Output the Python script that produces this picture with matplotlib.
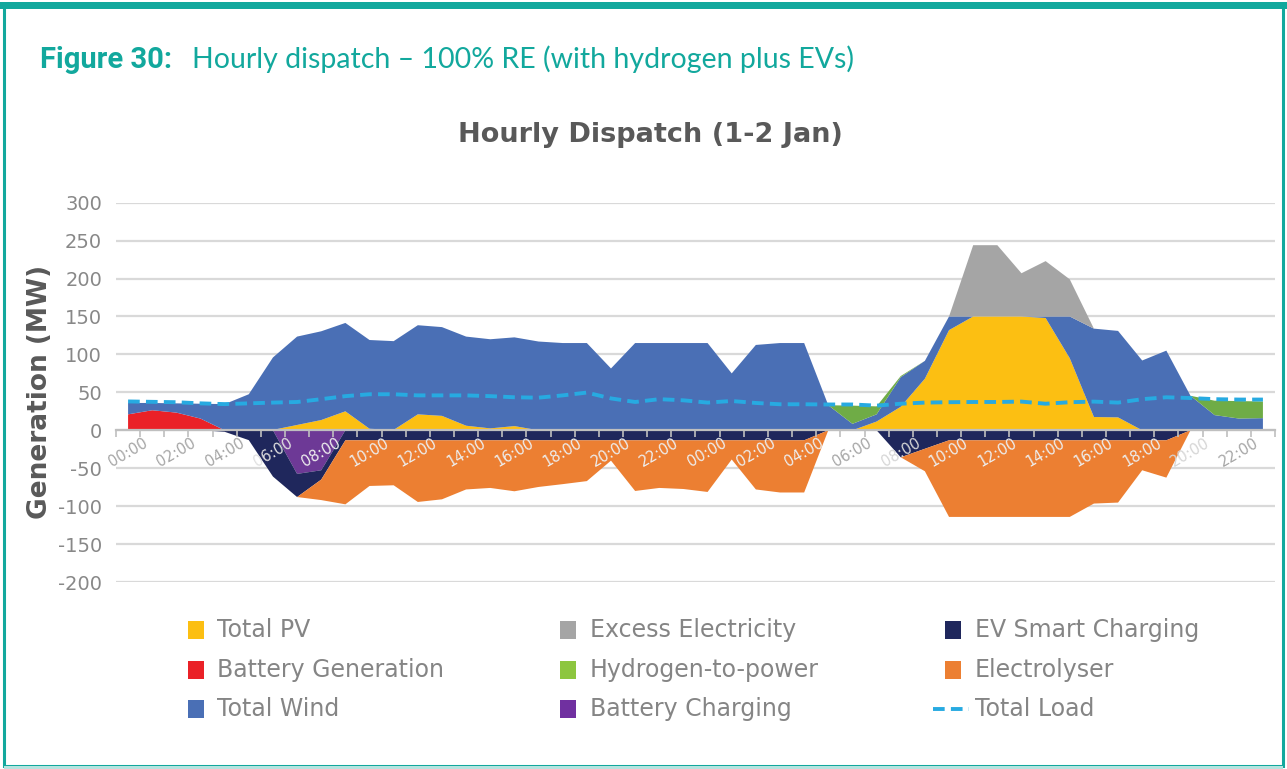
import numpy as np
import matplotlib.pyplot as plt
from matplotlib.patches import Rectangle
from matplotlib.lines import Line2D

plt.rcParams["axes.unicode_minus"] = False

# hourly values, 1-2 Jan (48 hours), MW
pv = [0, 0, 0, 0, 0, 0, 0.5, 7, 13.5, 25, 2, 0.5, 21, 19, 6, 2.5, 5.5, 0, 0, 0, 0, 0, 0, 0,
      0, 0, 0, 0, 0, 0, 0, 11.5, 31, 68, 132, 150, 150, 150, 148, 95, 17.5, 17, 0, 0, 0, 0, 0, 0]
battery_gen = [21, 26.4, 23.3, 15.4, 0, 0, 0, 0, 0, 0, 0, 0, 0, 0, 0, 0, 0, 0, 0, 0, 0, 0, 0, 0,
               0, 0, 0, 0, 0, 0, 0, 0, 0, 0, 0, 0, 0, 0, 0, 0, 0, 0, 0, 0, 1.5, 0, 0, 0]
wind = [15, 9.6, 12.2, 19.6, 34.5, 47.5, 95.5, 116.5, 117, 116.5, 117, 117, 117.5, 117, 117.5, 117.5,
        117, 117, 115, 115, 81.5, 115, 115, 115,
        115, 75, 112.5, 115, 115, 33, 8.5, 9.5, 39, 23.5, 18, 0, 0, 0, 2, 55, 116.5, 114, 92, 105,
        44, 20, 15.5, 16]
h2p = [0, 0, 0, 0, 0, 0, 0, 0, 0, 0, 0, 0, 0, 0, 0, 0, 0, 0, 0, 0, 0, 0, 0, 0,
       0, 0, 0, 0, 0, 0, 24, 10.5, 1.5, 0, 0, 0, 0, 0, 0, 0, 0, 0, 0, 0, 0, 19, 23, 22]
excess = [0, 0, 0, 0, 0, 0, 0, 0, 0, 0, 0, 0, 0, 0, 0, 0, 0, 0, 0, 0, 0, 0, 0, 0,
          0, 0, 0, 0, 0, 0, 0, 0, 0, 0, 0, 94, 94, 57, 73, 49, 0, 0, 0, 0, 0, 0, 0, 0]
battery_chg = [0, 0, 0, 0, 0, 0, 0, 57.5, 52.7, 0, 0, 0, 0, 0, 0, 0, 0, 0, 0, 0, 0, 0, 0, 0,
               0, 0, 0, 0, 0, 0, 0, 0, 0, 0, 0, 0, 0, 0, 0, 0, 0, 0, 0, 0, 0, 0, 0, 0]
ev_charging = [0, 0, 0, 0, 2, 13, 61, 30.5, 12.3, 13.2, 13.2, 13.2, 13.2, 13.2, 13.2, 13.2,
               13.2, 13.2, 13.2, 13.2, 13.2, 13.2, 13.2, 13.2,
               13.2, 13.2, 13.2, 13.2, 13.2, 0, 0, 0, 35.6, 24.4, 13.2, 13.2, 13.2, 13.2, 13.2,
               13.2, 13.2, 13.2, 13.2, 13.2, 0, 0, 0, 0]
electrolyser = [0, 0, 0, 0, 0, 0, 0, 0, 27, 84.4, 60.2, 59.3, 81.3, 77.8, 64.8, 62.8, 67.2,
                61.5, 57.8, 53.8, 26.8, 66.8, 62.8, 64.2,
                68.1, 25.3, 64.8, 68.8, 68.8, 0, 0, 0, 0, 29.6, 101, 101, 101, 101, 101, 101,
                83.4, 82.1, 39.5, 49.2, 0, 0, 0, 0]
load = [38, 37.5, 37, 35.5, 34.5, 35.5, 36.5, 37.3, 41, 45, 47.5, 47.5, 46, 46, 46, 45, 43.5,
        43, 46, 49.7, 42, 37.3, 41, 39.5,
        36.5, 38.6, 36, 34.3, 34.3, 34, 34, 32.5, 35, 36.5, 37, 37.3, 37.3, 37.8, 35, 37, 37.8,
        36.5, 41, 43.5, 42.5, 41, 40.5, 40.5]

tick_labels = ["00:00", "02:00", "04:00", "06:00", "08:00", "10:00", "12:00", "14:00",
               "16:00", "18:00", "20:00", "22:00", "00:00", "02:00", "04:00", "06:00",
               "08:00", "10:00", "12:00", "14:00", "16:00", "18:00", "20:00", "22:00"]
y_ticks = [-200, -150, -100, -50, 0, 50, 100, 150, 200, 250, 300]

c_pv, c_bg, c_wind = "#FCBF12", "#EA2127", "#4A6FB5"
c_h2p, c_exc = "#6FAC46", "#A5A5A5"
c_bc, c_ev, c_el = "#6D3996", "#1F275C", "#EC7F32"
c_load = "#27AAE1"
teal = "#12A89D"

W, H = 1287, 769
fig = plt.figure(figsize=(W / 100, H / 100), dpi=100)

# page frame
fig.add_artist(Rectangle((4 / W, 3 / H), 1279 / W, 760 / H, transform=fig.transFigure,
                         fill=False, edgecolor=teal, lw=2.2))
fig.add_artist(Rectangle((0, 1 - 9 / H), 1, 7 / H, transform=fig.transFigure,
                         color=teal, lw=0))
fig.add_artist(Rectangle((4 / W, 0), 1279 / W, 3 / H, transform=fig.transFigure,
                         color="#B5E4DF", lw=0))

fig.text(40 / W, 1 - 68 / H, "Figure 30:", family="Roboto", weight="bold",
         fontsize=21, color=teal, va="baseline")
fig.text(192 / W, 1 - 68 / H, "Hourly dispatch \u2013 100% RE (with hydrogen plus EVs)",
         family="Lato", fontsize=20.5, color=teal, va="baseline")
fig.text(650 / W, 1 - 135 / H, "Hourly Dispatch (1-2 Jan)", weight="bold",
         fontsize=19.5, color="#595959", ha="center", va="center")
fig.text(40 / W, 1 - 392 / H, "Generation (MW)", weight="bold", fontsize=19,
         color="#595959", rotation=90, ha="center", va="center")

ax = fig.add_axes([116 / W, 1 - 582 / H, (1275 - 116) / W, (582 - 202.7) / H])
x = np.arange(len(pv))

ax.stackplot(x, pv, battery_gen, wind, h2p, excess,
             colors=[c_pv, c_bg, c_wind, c_h2p, c_exc], lw=0, zorder=1)
ax.stackplot(x, -np.array(battery_chg), -np.array(ev_charging), -np.array(electrolyser),
             colors=[c_bc, c_ev, c_el], lw=0, zorder=1)
ax.plot(x, load, color=c_load, lw=2.8, ls=(0, (3, 1.6)), zorder=3)

for yv in y_ticks:
    ax.axhline(yv, color="#D9D9D9", lw=1.6, zorder=0)

ax.set_xlim(-0.5, len(pv) - 0.5)
ax.set_ylim(-200, 300)
ax.set_yticks(y_ticks)
ax.tick_params(axis="y", length=0, pad=10, labelsize=14, labelcolor="#888888")

for s in ["left", "right", "top"]:
    ax.spines[s].set_visible(False)
ax.spines["bottom"].set_position(("data", 0))
ax.spines["bottom"].set_color("#BFBFBF")
ax.spines["bottom"].set_linewidth(1.6)

ax.set_xticks(np.arange(0, len(pv), 2))
ax.set_xticklabels(tick_labels, rotation=30, fontsize=10.5)
ax.set_xticks(np.arange(-0.5, len(pv), 1), minor=True)
ax.tick_params(axis="x", which="major", length=0, pad=4)
ax.tick_params(axis="x", which="minor", length=5, width=1.2, color="#BFBFBF")

label_colors = ["#A6A6A6", "#A6A6A6", "#A6A6A6", "#E0E0E0", "#EEEEEE", "#EEEEEE",
                "#EEEEEE", "#EEEEEE", "#EEEEEE", "#EEEEEE", "#EEEEEE", "#EEEEEE",
                "#EEEEEE", "#EEEEEE", "#EEEEEE", "#A6A6A6", "#D6D6D6", "#EEEEEE",
                "#EEEEEE", "#EEEEEE", "#EEEEEE", "#EEEEEE", "#D6D6D6", "#A6A6A6"]
for lab, col in zip(ax.get_xticklabels(), label_colors):
    lab.set_color(col)

# legend, drawn by hand in a 3x3 grid
legend_items = [
    ("Total PV", c_pv, 0, 0), ("Excess Electricity", c_exc, 1, 0),
    ("EV Smart Charging", c_ev, 2, 0),
    ("Battery Generation", c_bg, 0, 1), ("Hydrogen-to-power", "#8DC63F", 1, 1),
    ("Electrolyser", c_el, 2, 1),
    ("Total Wind", c_wind, 0, 2), ("Battery Charging", "#7030A0", 1, 2),
]
col_marker = [188, 560, 945]
col_text = [217, 590, 975]
row_y = [630, 670, 709]
for name, col, ci, ri in legend_items:
    yc = row_y[ri]
    fig.add_artist(Rectangle((col_marker[ci] / W, 1 - (yc + 9) / H), 16 / W, 18 / H,
                             transform=fig.transFigure, color=col, lw=0))
    fig.text(col_text[ci] / W, 1 - yc / H, name, fontsize=17, color="#858585",
             va="center")
fig.add_artist(Line2D([933 / W, 969 / W], [1 - 709 / H, 1 - 709 / H],
                      transform=fig.transFigure, color=c_load, lw=2.8,
                      ls=(0, (3, 1.6))))
fig.text(col_text[2] / W, 1 - 709 / H, "Total Load", fontsize=17, color="#858585",
         va="center")

fig.savefig("out.png", dpi=100)
